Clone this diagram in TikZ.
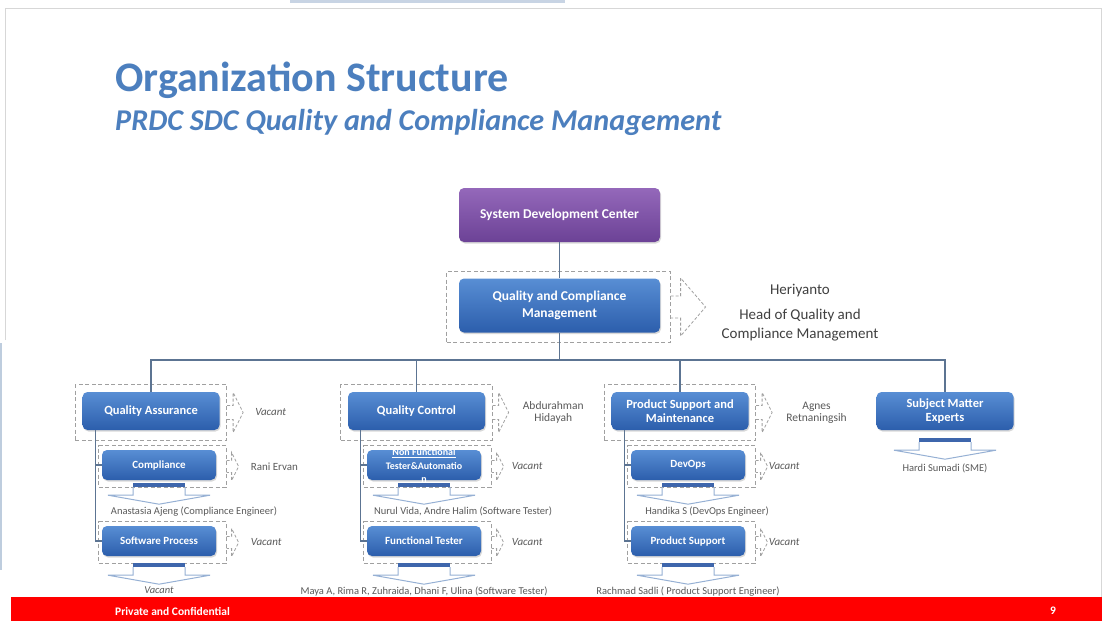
\documentclass[tikz,border=0pt]{standalone}
\usepackage{fontspec}
\setmainfont{Carlito}
\usetikzlibrary{positioning,fit,shadows,graphs}

\definecolor{titleblue}{RGB}{76,127,190}
\definecolor{boxtop}{RGB}{88,142,212}
\definecolor{boxbot}{RGB}{44,94,172}
\definecolor{purtop}{RGB}{148,104,186}
\definecolor{purbot}{RGB}{108,66,150}
\definecolor{linkcol}{RGB}{92,116,146}
\definecolor{grpgray}{RGB}{160,160,160}
\definecolor{arrowline}{RGB}{150,176,212}
\definecolor{barblue}{RGB}{62,102,172}
\definecolor{whogray}{RGB}{90,90,90}
\definecolor{headgray}{RGB}{64,64,64}
\definecolor{framegray}{RGB}{215,215,215}
\definecolor{topbar}{RGB}{200,212,228}
\definecolor{sidebar}{RGB}{190,205,222}
\definecolor{slidered}{RGB}{255,0,0}

\begin{document}
\begin{tikzpicture}[x=1pt, y=-1pt,
    unitbox/.style={rounded corners=5pt, top color=boxtop, bottom color=boxbot, text=white, align=center, inner sep=2pt,
      drop shadow={shadow xshift=1pt, shadow yshift=-1.5pt, opacity=0.3}},
    rootbox/.style={unitbox, minimum width=201pt, minimum height=54pt, font=\bfseries\fontsize{13.5}{16.5}\selectfont},
    headbox/.style={unitbox, minimum width=137pt, minimum height=38pt, font=\bfseries\fontsize{12.5}{14}\selectfont},
    subbox/.style={unitbox, minimum width=114pt, minimum height=30pt, font=\bfseries\fontsize{11}{13}\selectfont},
    grpbox/.style={draw=grpgray, dash pattern=on 4pt off 2.5pt, line width=0.8pt, inner sep=0pt},
    grpline/.style={draw=grpgray, dash pattern=on 3pt off 2pt, line width=0.8pt},
    link/.style={draw=linkcol, line width=1.2pt},
    who/.style={text=whogray, font=\fontsize{10.5}{12}\selectfont, inner sep=0pt},
    vac/.style={who, font=\itshape\fontsize{11}{12}\selectfont},
    footer/.style={text=white, font=\bfseries\fontsize{11.5}{12}\selectfont, inner sep=0pt}]

    % slide
    \fill[white] (0,0) rectangle (1105,621);
    \useasboundingbox (0,0) rectangle (1105,621);
    \fill[topbar] (290,0) rectangle (565,3);
    \draw[framegray, line width=1pt] (5,340) -- (5,8) -- (1101,8) -- (1101,597);
    \fill[sidebar] (0,343) rectangle (2,570);
    \fill[slidered] (11,597) rectangle (1102,621);
    \node[footer, anchor=west] (conf) at (115,611) {Private and Confidential};
    \node[footer] (pageno) at (1053,611) {9};

    % titles
    \node[anchor=base west, inner sep=0pt, text=titleblue, font=\bfseries\fontsize{42}{46}\selectfont] (title) at (115,91) {Organization Structure};
    \node[anchor=base west, inner sep=0pt, text=titleblue, font=\bfseries\itshape\fontsize{30.2}{34}\selectfont] (subtitle) at (115,130) {PRDC SDC Quality and Compliance Management};

    % boxes
    \node[rootbox, top color=purtop, bottom color=purbot] (sdc) at (559.5,215) {System Development Center};
    \node[rootbox] (qcm) at (559.5,305.5) {Quality and Compliance\\Management};
    \node[headbox] (qa) at (151,411) {Quality Assurance};
    \node[headbox] (qc) at (416.5,411) {Quality Control};
    \node[headbox] (psm) at (680,411) {Product Support and\\Maintenance};
    \node[headbox] (sme) at (945,411) {Subject Matter\\Experts};
    \node[subbox] (comp) at (159,465) {Compliance};
    \node[subbox] (swp) at (159,541) {Software Process};
    \node[subbox, font=\bfseries\fontsize{10}{13.5}\selectfont] (nft) at (424,465)
      {\smash{\raisebox{-4pt}{\begin{tabular}{@{}c@{}}\underline{Non Functional}\\Tester\&Automatio\\n\end{tabular}}}};
    \node[subbox] (ft) at (424,541) {Functional Tester};
    \node[subbox] (devops) at (688,465) {DevOps};
    \node[subbox] (ps) at (688,541) {Product Support};

    % dashed groups
    \node[grpbox, fit={([shift={(-12pt,7pt)}]qcm.north west) ([shift={(10pt,-10pt)}]qcm.south east)}] (gqcm) {};
    \foreach \n in {qa,qc,psm}
      \node[grpbox, fit={([shift={(-7pt,7pt)}]\n.north west) ([shift={(7pt,-10pt)}]\n.south east)}] (g\n) {};
    \foreach \n in {comp,swp,nft,ft,devops,ps}
      \node[grpbox, fit={([shift={(-3pt,4pt)}]\n.north west) ([shift={(10pt,-7pt)}]\n.south east)}] (g\n) {};

    % dashed pointers
    \foreach \grp/\ox/\oy/\hh/\ww in {gqcm/10pt/11pt/29pt/35pt, gqa/6pt/7pt/20pt/16pt, gqc/6pt/7pt/20pt/16pt, gpsm/6pt/7pt/20pt/16pt,
        gcomp/5pt/6pt/14pt/12pt, gswp/5pt/6pt/14pt/12pt, gnft/5pt/6pt/14pt/12pt, gft/5pt/6pt/14pt/12pt, gdevops/5pt/6pt/14pt/12pt, gps/5pt/6pt/14pt/12pt}
      \draw[grpline] ([yshift=\oy]\grp.east) -- ++(\ox,0pt) -- ++(0pt,\hh-\oy) -- ++(\ww-\ox,-\hh)
        -- ++(\ox-\ww,-\hh) -- ++(0pt,\hh-\oy) -- ++(-\ox,0pt);

    % connectors
    \coordinate (bus) at (559.5,360);
    \graph { (sdc) --[link] (qcm) --[link] (bus) };
    \foreach \n in {qa,qc,psm,sme}
      \draw[link] (bus) -| (\n.north);
    \foreach \p/\first/\second in {qa/comp/swp, qc/nft/ft, psm/devops/ps} {
      \coordinate (\first-x) at ([xshift=-6pt]\first.west);
      \draw[link] (\first-x |- \p.south) |- (\second.west);
      \draw[link] (\first-x) -- (\first.west);
    }

    % leaf arrows
    \foreach \leaf/\gap in {comp/3pt, swp/7pt, nft/3pt, ft/7pt, devops/3pt, ps/7pt, sme/8pt} {
      \fill[barblue] ([shift={(-26pt,-\gap)}]\leaf.south) rectangle ([shift={(26pt,-\gap-4pt)}]\leaf.south);
      \draw[arrowline, line width=1pt] ([shift={(-26pt,-\gap-4pt)}]\leaf.south) -- ++(0pt,-8pt) -- ++(-25pt,0pt)
        -- ++(51pt,-9pt) coordinate (\leaf-tip) -- ++(51pt,9pt) -- ++(-25pt,0pt) -- ++(0pt,8pt);
    }

    % people
    \node[who, text=headgray, font=\fontsize{15}{18}\selectfont] (headname) at (800,291) {Heriyanto};
    \node[who, text=headgray, align=center, font=\fontsize{15}{19}\selectfont] (headrole) at (800,325.5) {Head of Quality and\\Compliance Management};
    \node[vac, right=28pt of gqa.east] (qalead) {Vacant};
    \node[who, align=center, font=\fontsize{11.5}{11.5}\selectfont, right=30pt of gqc.east] (qclead) {Abdurahman\\Hidayah};
    \node[who, align=center, font=\fontsize{11.5}{12}\selectfont, right=30pt of gpsm.east] (psmlead) {Agnes\\Retnaningsih};
    \node[who, font=\fontsize{11}{12}\selectfont, right=24pt of gcomp.east] (complead) {Rani Ervan};
    \foreach \grp/\gap in {gswp/24pt, gnft/20pt, gft/20pt, gdevops/13pt, gps/13pt}
      \node[vac, right=\gap of \grp.east] (\grp-lead) {Vacant};

    \node[who, below=2.5pt of comp-tip, xshift=35pt] (comp-who) {Anastasia Ajeng (Compliance Engineer)};
    \node[vac, font=\itshape\fontsize{10.5}{12}\selectfont, below=2.5pt of swp-tip] (swp-who) {Vacant};
    \node[who, below=2.5pt of nft-tip, xshift=39pt] (nft-who) {Nurul Vida, Andre Halim (Software Tester)};
    \node[who, below=2.5pt of ft-tip] (ft-who) {Maya A, Rima R, Zuhraida, Dhani F, Ulina (Software Tester)};
    \node[who, below=2.5pt of devops-tip, xshift=19pt] (devops-who) {Handika S (DevOps Engineer)};
    \node[who, below=2.5pt of ps-tip] (ps-who) {Rachmad Sadli ( Product Support Engineer)};
    \node[who, below=4pt of sme-tip] (sme-who) {Hardi Sumadi (SME)};
\end{tikzpicture}
\end{document}
